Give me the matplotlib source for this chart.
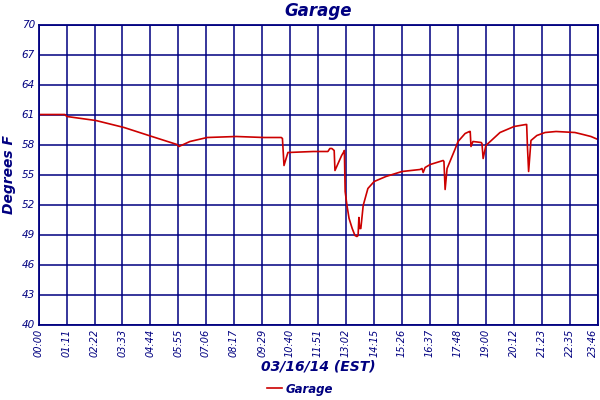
import matplotlib
matplotlib.use("Agg")
import matplotlib.pyplot as plt

# minutes since midnight and temperature (deg F)
minutes = [0, 66, 71, 145, 217, 288, 352, 357, 385, 429, 503, 574, 618,
           621, 625, 635, 700, 737, 742, 747, 753, 755, 772, 778, 779,
           781, 786, 791, 799, 806, 811, 814, 816, 818, 821, 827, 839,
           855, 885, 926, 972, 977, 980, 985, 998, 1031, 1033, 1036,
           1041, 1061, 1069, 1087, 1098, 1100, 1102, 1107, 1128, 1130,
           1133, 1140, 1176, 1212, 1242, 1244, 1246, 1249, 1255, 1270,
           1291, 1319, 1367, 1388, 1408, 1426]
temps = [61.0, 61.0, 60.8, 60.4, 59.7, 58.8, 58.0, 57.8, 58.3, 58.7,
         58.8, 58.7, 58.7, 58.6, 55.9, 57.2, 57.3, 57.3, 57.6, 57.6,
         57.4, 55.4, 56.9, 57.3, 57.4, 53.3, 51.8, 50.6, 49.6, 48.9,
         48.8, 48.9, 50.7, 49.6, 49.6, 51.9, 53.6, 54.3, 54.8, 55.3,
         55.5, 55.6, 55.2, 55.7, 56.0, 56.4, 56.3, 53.5, 55.6, 57.5,
         58.3, 59.1, 59.3, 59.3, 57.8, 58.3, 58.2, 58.1, 56.6, 57.9,
         59.2, 59.8, 60.0, 60.0, 57.8, 55.3, 58.4, 58.9, 59.2, 59.3,
         59.2, 59.0, 58.8, 58.5]

xtick_labels = ["00:00", "01:11", "02:22", "03:33", "04:44", "05:55",
                "07:06", "08:17", "09:29", "10:40", "11:51", "13:02",
                "14:15", "15:26", "16:37", "17:48", "19:00", "20:12",
                "21:23", "22:35", "23:46"]
ytick_values = [40, 43, 46, 49, 52, 55, 58, 61, 64, 67, 70]

navy = "#000080"
red = "#cc0000"

fig = plt.figure(figsize=(6, 4), dpi=100)
ax = fig.add_axes([39/600, 1-324.5/400, 559/600, 300/400])

xticks = [int(s[:2])*60 + int(s[3:]) for s in xtick_labels]

ax.plot(minutes, temps, color=red, lw=1.2, label="Garage")
ax.set_xlim(0, 1426)
ax.set_ylim(40, 70)
ax.set_xticks(xticks)
ax.set_xticklabels(xtick_labels, rotation=90, fontsize=7, color=navy,
                   style="italic")
# last label sits on the right edge, keep it inside the figure
ax.get_xticklabels()[-1].set_horizontalalignment("right")
ax.set_yticks(ytick_values)
ax.set_yticklabels([str(v) for v in ytick_values], fontsize=7.5,
                   color=navy, style="italic")
ax.tick_params(length=0, pad=3)
ax.grid(True, color=navy, lw=1.1)
for s in ax.spines.values():
    s.set_color(navy)
    s.set_linewidth(1.3)

ax.set_title("Garage", fontsize=12, color=navy, style="italic",
             weight="bold", pad=6)
ax.set_ylabel("Degrees F", fontsize=10, color=navy, style="italic",
              weight="bold", labelpad=4)
fig.text(318/600, 1-367/400, "03/16/14 (EST)", fontsize=10, color=navy,
         style="italic", weight="bold", ha="center", va="center")

leg = fig.legend(loc="center", bbox_to_anchor=(300/600, 1-389/400),
                 frameon=False, handlelength=1.2, handletextpad=0.3,
                 prop={"size": 8.5, "style": "italic", "weight": "bold"})
for t in leg.get_texts():
    t.set_color(navy)

fig.savefig("out.png", dpi=100)
